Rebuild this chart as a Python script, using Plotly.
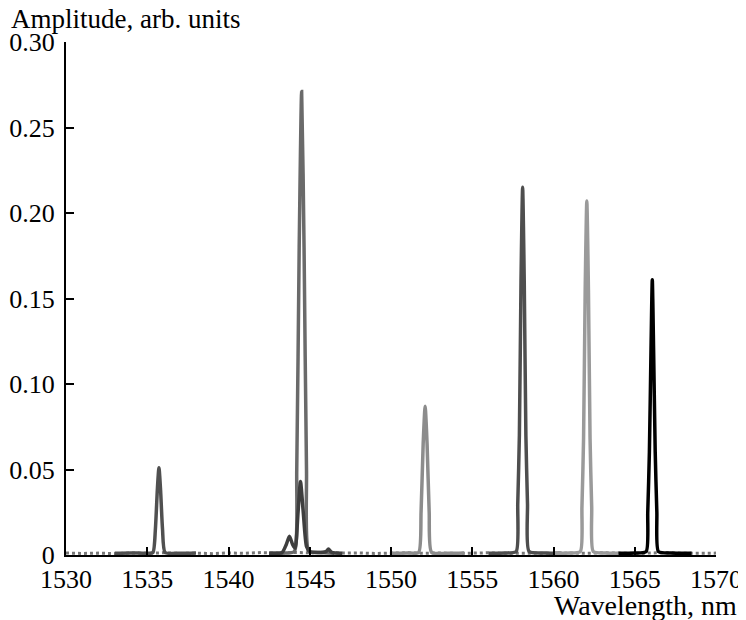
import plotly.graph_objects as go

# Background noise floor (dotted grey)
bg_x = [1530, 1531, 1532, 1533, 1534, 1535, 1536, 1537, 1538, 1539, 1540,
        1541, 1542, 1543, 1544, 1545, 1546, 1547, 1548, 1549, 1550,
        1551, 1552, 1553, 1554, 1555, 1556, 1557, 1558, 1559, 1560,
        1561, 1562, 1563, 1564, 1565, 1566, 1567, 1568, 1569, 1570]
bg_y = [0.0012, 0.0009, 0.0011, 0.0008, 0.0012, 0.0010, 0.0013, 0.0009, 0.0011, 0.0008, 0.0012,
        0.0010, 0.0014, 0.0011, 0.0015, 0.0013, 0.0016, 0.0011, 0.0012, 0.0009, 0.0011,
        0.0013, 0.0010, 0.0012, 0.0009, 0.0011, 0.0013, 0.0010, 0.0012, 0.0011, 0.0009,
        0.0012, 0.0010, 0.0013, 0.0011, 0.0009, 0.0012, 0.0014, 0.0010, 0.0012, 0.0011]

# Spectral peaks (wavelength nm, amplitude arb. units)
p1_x = [1533.0, 1534.0, 1535.0, 1535.35, 1535.5, 1535.62, 1535.72, 1535.82, 1535.94, 1536.1, 1537.0, 1538.0]
p1_y = [0.0010, 0.0012, 0.0010, 0.0015, 0.015, 0.038, 0.051, 0.038, 0.015, 0.0015, 0.0010, 0.0012]

p2_x = [1542.5, 1543.5, 1544.05, 1544.2, 1544.35, 1544.5, 1544.65, 1544.8, 1544.95, 1545.6, 1546.5]
p2_y = [0.0010, 0.0012, 0.0020, 0.050, 0.180, 0.271, 0.180, 0.050, 0.0020, 0.0015, 0.0010]

p3_x = [1542.5, 1543.3, 1543.55, 1543.75, 1543.95, 1544.1, 1544.28, 1544.43, 1544.6, 1544.8, 1545.0, 1545.5, 1546.0, 1546.15, 1546.35, 1547.0]
p3_y = [0.0010, 0.0015, 0.0060, 0.0110, 0.0060, 0.0040, 0.0250, 0.0430, 0.0250, 0.0050, 0.0020, 0.0015, 0.0020, 0.0035, 0.0015, 0.0010]

p4_x = [1550.0, 1551.0, 1551.7, 1551.85, 1551.98, 1552.1, 1552.22, 1552.35, 1552.5, 1553.5, 1554.5]
p4_y = [0.0010, 0.0012, 0.0015, 0.025, 0.065, 0.087, 0.065, 0.025, 0.0015, 0.0010, 0.0012]

p5_x = [1556.0, 1557.0, 1557.7, 1557.8, 1557.9, 1558.0, 1558.1, 1558.2, 1558.3, 1558.4, 1558.5, 1559.5, 1560.5]
p5_y = [0.0010, 0.0012, 0.0020, 0.030, 0.070, 0.160, 0.215, 0.160, 0.070, 0.030, 0.0020, 0.0012, 0.0010]

p6_x = [1560.0, 1561.0, 1561.65, 1561.75, 1561.85, 1561.95, 1562.05, 1562.15, 1562.25, 1562.35, 1562.45, 1563.2, 1564.0]
p6_y = [0.0010, 0.0012, 0.0020, 0.028, 0.068, 0.155, 0.207, 0.155, 0.068, 0.028, 0.0020, 0.0012, 0.0010]

p7_x = [1564.0, 1565.0, 1565.7, 1565.8, 1565.9, 1566.0, 1566.08, 1566.16, 1566.26, 1566.36, 1566.46, 1567.2, 1568.5]
p7_y = [0.0010, 0.0012, 0.0020, 0.025, 0.060, 0.120, 0.161, 0.120, 0.060, 0.025, 0.0020, 0.0012, 0.0010]

series = [
    (p1_x, p1_y, "#505050"),
    (p2_x, p2_y, "#6a6a6a"),
    (p3_x, p3_y, "#3e3e3e"),
    (p4_x, p4_y, "#8c8c8c"),
    (p5_x, p5_y, "#4e4e4e"),
    (p6_x, p6_y, "#9a9a9a"),
    (p7_x, p7_y, "#000000"),
]

x_ticks = [1530, 1535, 1540, 1545, 1550, 1555, 1560, 1565, 1570]
y_ticks = [0, 0.05, 0.10, 0.15, 0.20, 0.25, 0.30]
y_tick_labels = ["0", "0.05", "0.10", "0.15", "0.20", "0.25", "0.30"]

fig = go.Figure()
fig.add_trace(go.Scatter(x=bg_x, y=bg_y, mode="lines",
                         line=dict(color="#777777", width=3, dash="dot"),
                         showlegend=False, hoverinfo="skip"))
for xs, ys, col in series:
    fig.add_trace(go.Scatter(x=xs, y=ys, mode="lines",
                             line=dict(color=col, width=3.5, shape="spline", smoothing=0.6),
                             showlegend=False))

font_family = "Liberation Serif, Times New Roman, serif"
fig.update_layout(
    width=738, height=612,
    margin=dict(l=58, r=30, t=34, b=65, autoexpand=False),
    plot_bgcolor="white", paper_bgcolor="white",
    font=dict(family=font_family, size=26, color="black"),
    xaxis=dict(range=[1530, 1570], tickvals=x_ticks, ticks="inside", ticklen=8,
               tickwidth=2, tickcolor="black", showline=True, linewidth=2,
               linecolor="black", showgrid=False, zeroline=False, automargin=False,
               ticklabelstandoff=0, tickfont=dict(size=26)),
    yaxis=dict(range=[0, 0.30], tickvals=y_ticks, ticktext=y_tick_labels,
               ticks="inside", ticklen=8, tickwidth=2, tickcolor="black",
               showline=True, linewidth=2, linecolor="black", showgrid=False,
               zeroline=False, automargin=False, ticklabelstandoff=4,
               tickfont=dict(size=26)),
    annotations=[
        dict(text="Amplitude, arb. units", xref="paper", yref="paper",
             x=-0.088, y=1.045, xanchor="left", yanchor="middle",
             showarrow=False, font=dict(size=27)),
        dict(text="Wavelength, nm", xref="paper", yref="paper",
             x=1.036, y=-0.0975, xanchor="right", yanchor="middle",
             showarrow=False, font=dict(size=28)),
    ],
)

fig.write_html("out.html")
